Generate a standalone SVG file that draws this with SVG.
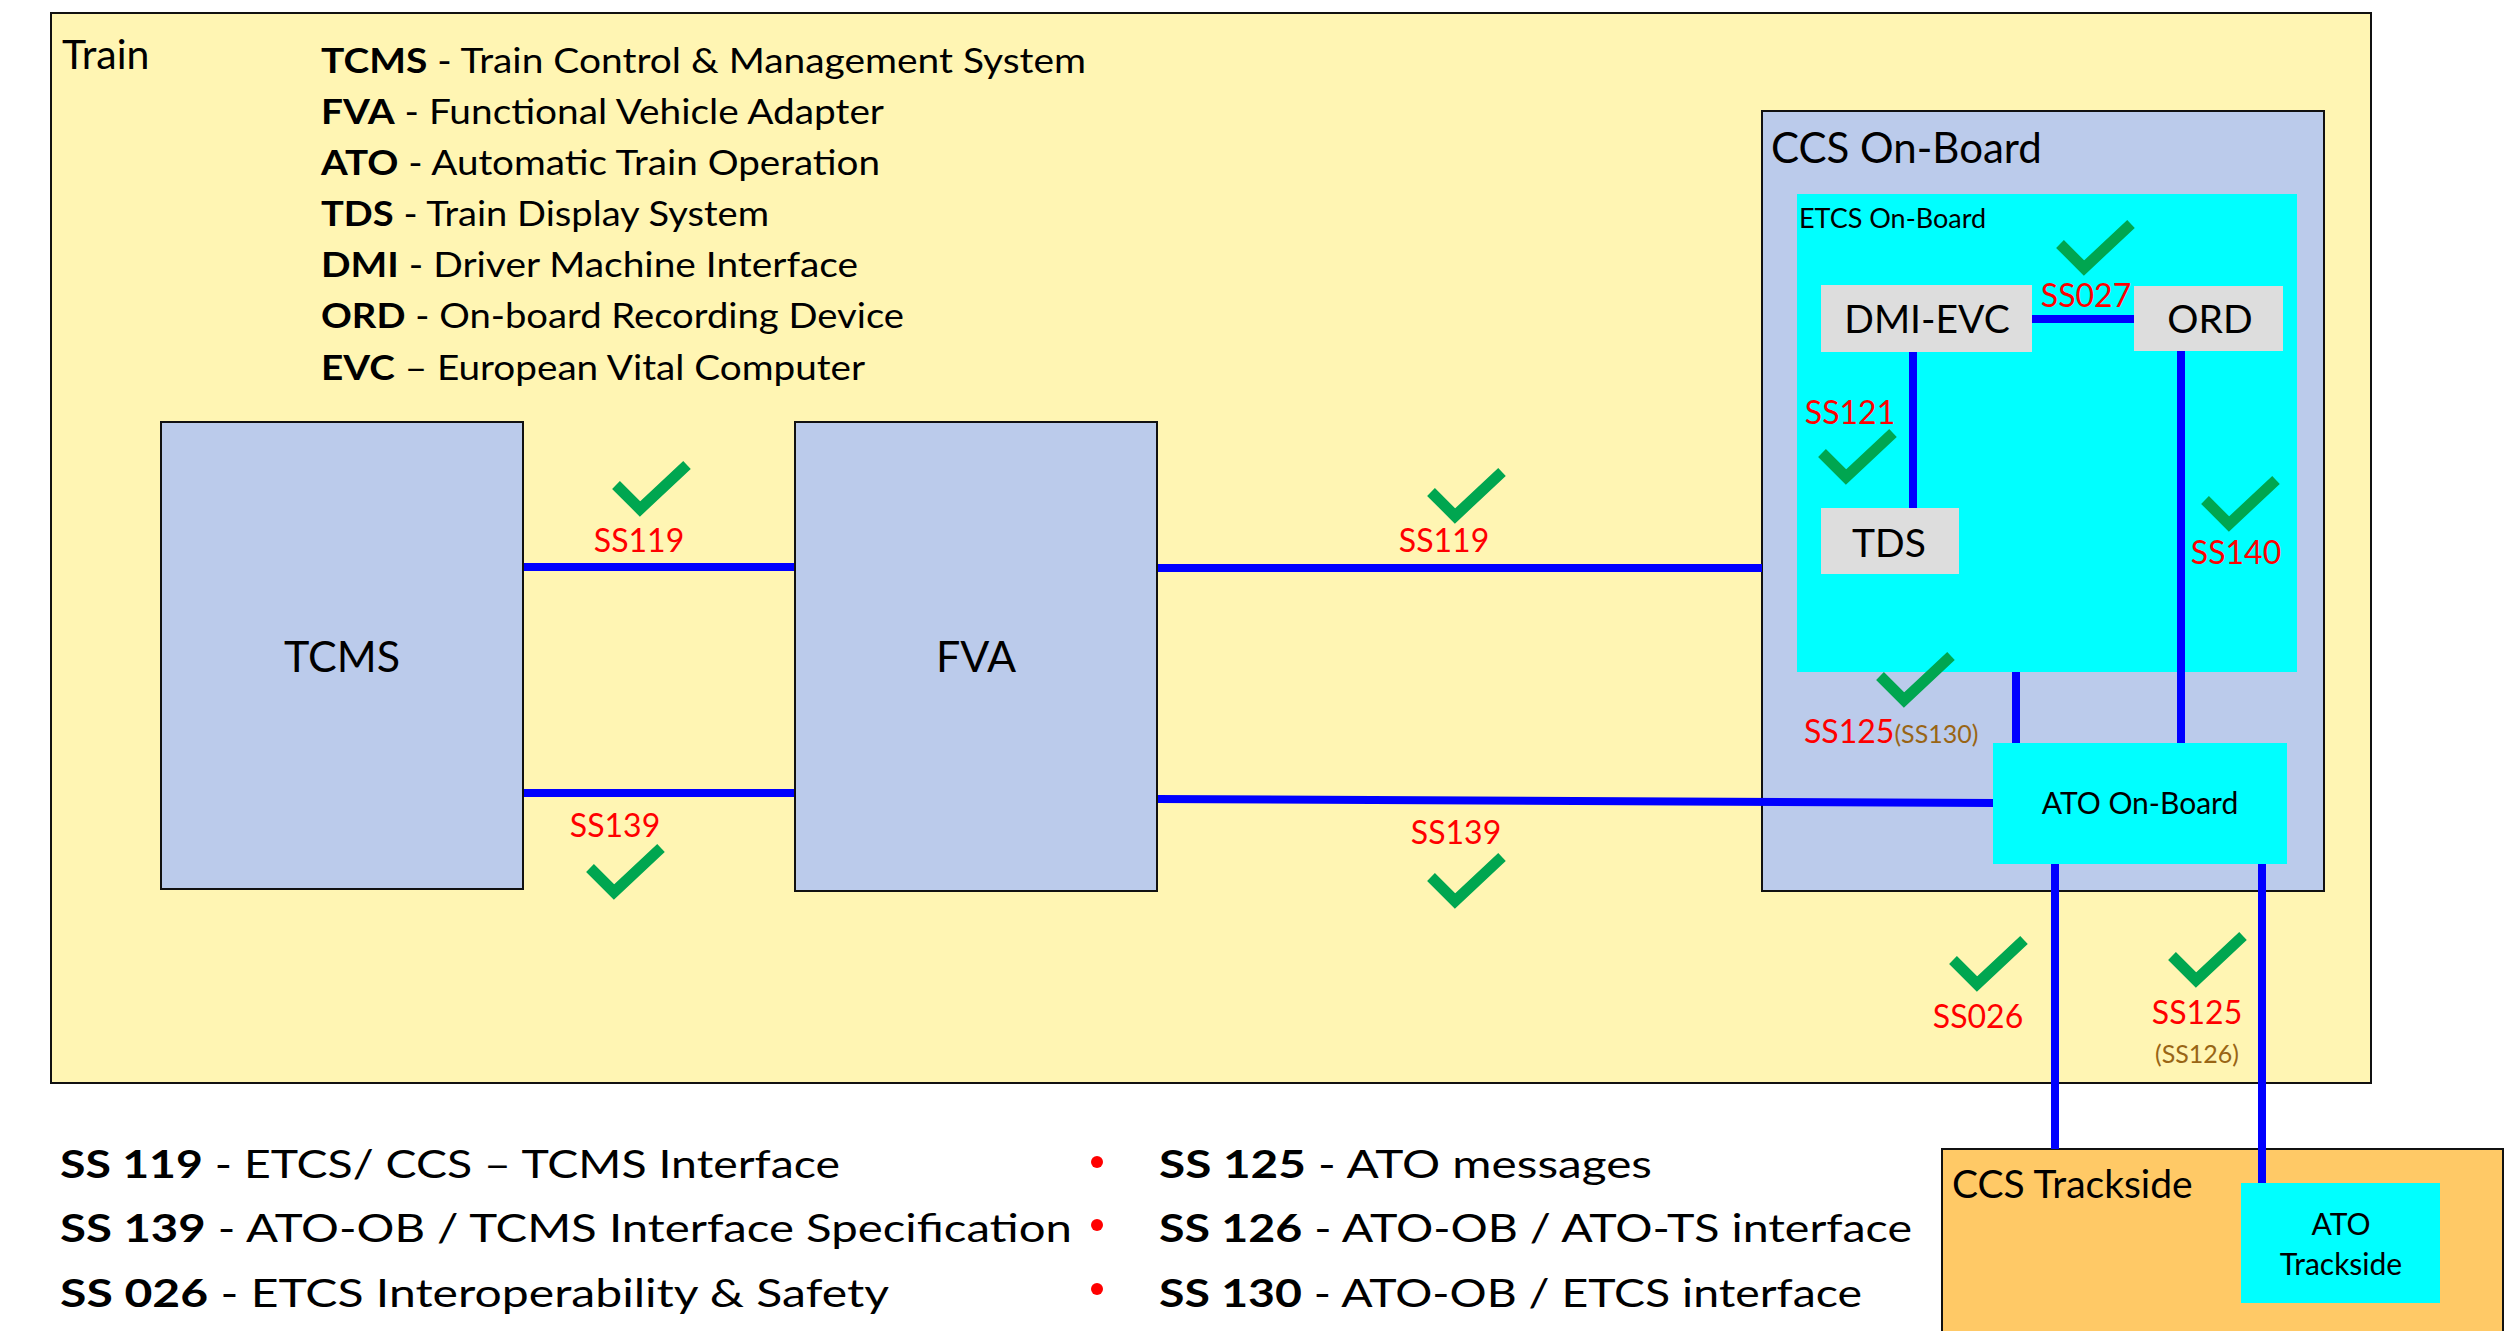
<svg xmlns="http://www.w3.org/2000/svg" xmlns:xlink="http://www.w3.org/1999/xlink" width="2519" height="1331" viewBox="0 0 2519 1331">
<style>
text{font-family:Lato,"Liberation Sans",sans-serif;fill:#000}
.b{font-weight:bold}
.cont{stroke:#111;stroke-width:2}
.blue{fill:#BBCBEB}
.cyan{fill:#00FFFF}
.grey{fill:#DDDDDD}
.wire{stroke:#0000FF;stroke-width:8;fill:none}
.lbl{fill:#FF0000;font-size:32px;text-anchor:middle}
.start{text-anchor:start}
.sub{fill:#996515;font-size:25px}
.leg{font-size:35px}
.leg2{font-size:38px}
</style>
<defs>
<path id="check" d="M2,23 L26,47 L73,3" fill="none" stroke="#00A650" stroke-width="11"/>
</defs>
<rect width="2519" height="1331" fill="#FFFFFF"/>

<g id="train">
<rect class="cont" x="51" y="13" width="2320" height="1070" fill="#FFF5B3"/>
<text x="62" y="69" font-size="41">Train</text>
</g>

<g id="legend-top" class="leg">
<text x="321" y="73" textLength="765" lengthAdjust="spacingAndGlyphs"><tspan class="b">TCMS</tspan> - Train Control &amp; Management System</text>
<text x="321" y="124" textLength="563" lengthAdjust="spacingAndGlyphs"><tspan class="b">FVA</tspan> - Functional Vehicle Adapter</text>
<text x="321" y="175" textLength="559" lengthAdjust="spacingAndGlyphs"><tspan class="b">ATO</tspan> - Automatic Train Operation</text>
<text x="321" y="226" textLength="448" lengthAdjust="spacingAndGlyphs"><tspan class="b">TDS</tspan> - Train Display System</text>
<text x="321" y="277" textLength="537" lengthAdjust="spacingAndGlyphs"><tspan class="b">DMI</tspan> - Driver Machine Interface</text>
<text x="321" y="328" textLength="583" lengthAdjust="spacingAndGlyphs"><tspan class="b">ORD</tspan> - On-board Recording Device</text>
<text x="321" y="380" textLength="544" lengthAdjust="spacingAndGlyphs"><tspan class="b">EVC</tspan> – European Vital Computer</text>
</g>

<g id="ccs-onboard">
<rect class="cont blue" x="1762" y="111" width="562" height="780"/>
<text x="1771" y="163" font-size="42">CCS On-Board</text>
</g>

<g id="etcs-onboard">
<rect class="cyan" x="1797" y="194" width="500" height="478"/>
<text x="1799" y="228" font-size="27">ETCS On-Board</text>
</g>

<g id="ccs-trackside">
<rect class="cont" x="1942" y="1149" width="561" height="200" fill="#FFC966"/>
<text x="1952" y="1198" font-size="39">CCS Trackside</text>
</g>

<g id="connectors">
<line class="wire" x1="523" y1="567" x2="795" y2="567"/>
<line class="wire" x1="523" y1="793" x2="795" y2="793"/>
<line class="wire" x1="1157" y1="568" x2="1762" y2="568"/>
<line class="wire" x1="1157" y1="799" x2="1993" y2="803"/>
<line class="wire" x1="2032" y1="319" x2="2134" y2="319"/>
<line class="wire" x1="1913" y1="352" x2="1913" y2="508"/>
<line class="wire" x1="2181" y1="351" x2="2181" y2="743"/>
<line class="wire" x1="2016" y1="672" x2="2016" y2="743"/>
<line class="wire" x1="2055" y1="864" x2="2055" y2="1149"/>
<line class="wire" x1="2262" y1="864" x2="2262" y2="1183"/>
</g>

<g id="tcms">
<rect class="cont blue" x="161" y="422" width="362" height="467"/>
<text x="342" y="672" font-size="43" text-anchor="middle">TCMS</text>
</g>
<g id="fva">
<rect class="cont blue" x="795" y="422" width="362" height="469"/>
<text x="976" y="672" font-size="43" text-anchor="middle">FVA</text>
</g>
<g id="dmi-evc">
<rect class="grey" x="1821" y="285" width="211" height="67"/>
<text x="1927" y="333" font-size="39" text-anchor="middle">DMI-EVC</text>
</g>
<g id="ord">
<rect class="grey" x="2134" y="286" width="149" height="65"/>
<text x="2210" y="333" font-size="39" text-anchor="middle">ORD</text>
</g>
<g id="tds">
<rect class="grey" x="1821" y="508" width="138" height="66"/>
<text x="1889" y="557" font-size="39" text-anchor="middle">TDS</text>
</g>
<g id="ato-onboard">
<rect class="cyan" x="1993" y="743" width="294" height="121"/>
<text x="2140" y="814" font-size="30" text-anchor="middle">ATO On-Board</text>
</g>
<g id="ato-trackside">
<rect class="cyan" x="2241" y="1183" width="199" height="120"/>
<text x="2341" y="1235" font-size="30" text-anchor="middle">ATO</text>
<text x="2341" y="1275" font-size="30" text-anchor="middle">Trackside</text>
</g>

<g id="labels">
<text class="lbl" x="639" y="552">SS119</text>
<text class="lbl" x="1444" y="552">SS119</text>
<text class="lbl" x="615" y="837">SS139</text>
<text class="lbl" x="1456" y="844">SS139</text>
<text class="lbl" x="2086" y="307">SS027</text>
<text class="lbl" x="1850" y="424">SS121</text>
<text class="lbl" x="2236" y="564">SS140</text>
<text class="lbl start" x="1804" y="743">SS125<tspan class="sub">(SS130)</tspan></text>
<text class="lbl" x="1978" y="1028">SS026</text>
<text class="lbl" x="2197" y="1024">SS125</text>
<text class="lbl sub" x="2197" y="1063">(SS126)</text>
<use xlink:href="#check" x="614" y="462"/>
<use xlink:href="#check" x="1429" y="469"/>
<use xlink:href="#check" x="588" y="845"/>
<use xlink:href="#check" x="1429" y="854"/>
<use xlink:href="#check" x="2058" y="221"/>
<use xlink:href="#check" x="1820" y="430"/>
<use xlink:href="#check" x="2203" y="477"/>
<use xlink:href="#check" x="1878" y="653"/>
<use xlink:href="#check" x="1951" y="937"/>
<use xlink:href="#check" x="2170" y="933"/>
</g>

<g id="legend-bottom" class="leg2">
<text x="60" y="1178" textLength="780" lengthAdjust="spacingAndGlyphs"><tspan class="b">SS 119</tspan> - ETCS/ CCS – TCMS Interface</text>
<text x="60" y="1242" textLength="1012" lengthAdjust="spacingAndGlyphs"><tspan class="b">SS 139</tspan> - ATO-OB / TCMS Interface Specification</text>
<text x="60" y="1307" textLength="829" lengthAdjust="spacingAndGlyphs"><tspan class="b">SS 026</tspan> - ETCS Interoperability &amp; Safety</text>
<circle cx="1097" cy="1162" r="6" fill="#FF0000"/>
<circle cx="1097" cy="1225" r="6" fill="#FF0000"/>
<circle cx="1097" cy="1289" r="6" fill="#FF0000"/>
<text x="1159" y="1178" textLength="493" lengthAdjust="spacingAndGlyphs"><tspan class="b">SS 125</tspan> - ATO messages</text>
<text x="1159" y="1242" textLength="753" lengthAdjust="spacingAndGlyphs"><tspan class="b">SS 126</tspan> - ATO-OB / ATO-TS interface</text>
<text x="1159" y="1307" textLength="703" lengthAdjust="spacingAndGlyphs"><tspan class="b">SS 130</tspan> - ATO-OB / ETCS interface</text>
</g>
</svg>
